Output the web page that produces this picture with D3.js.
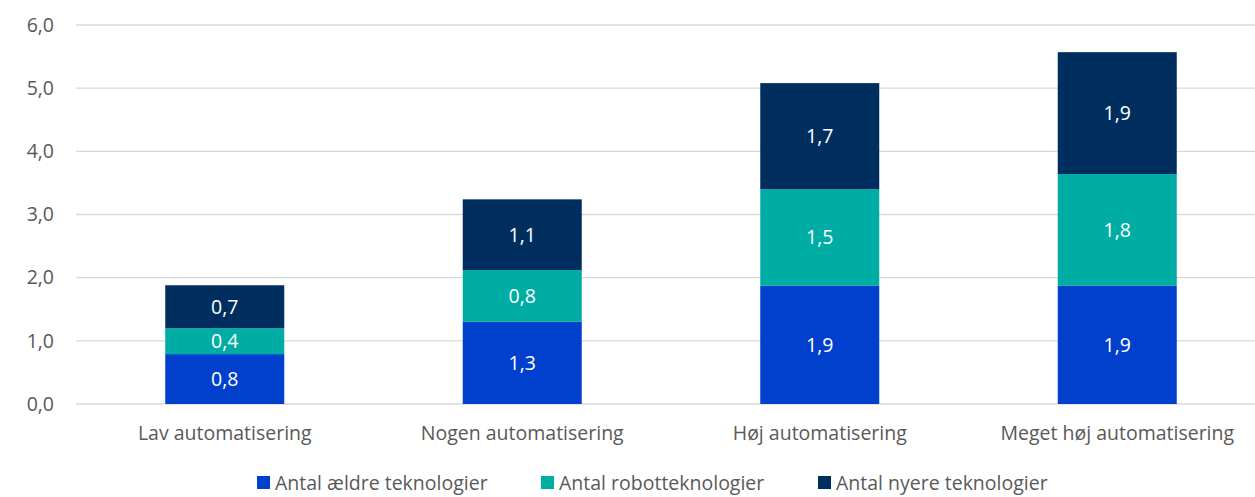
<!DOCTYPE html>
<html lang="da">
<head>
  <meta charset="UTF-8">
  <title>Automatisering og teknologier</title>
  <script src="https://cdn.jsdelivr.net/npm/d3@7"></script>
  <style>
    body { margin: 0; background: #fff; }
    text { font-family: "Segoe UI", "Open Sans", sans-serif; }
    .grid line { stroke: #d9d9d9; stroke-width: 1.3px; }
    .axis text { fill: #595959; font-size: 19.5px; }
    .lbl { fill: #fff; font-size: 19.5px; }
    .legend text { fill: #595959; font-size: 19.5px; }
  </style>
</head>
<body>
<svg width="1255" height="497"></svg>
<script>
  // data
  var categories = ["Lav automatisering", "Nogen automatisering", "Høj automatisering", "Meget høj automatisering"];
  var seriesNames = ["Antal ældre teknologier", "Antal robotteknologier", "Antal nyere teknologier"];
  var aeldre = [0.79, 1.30, 1.87, 1.87];
  var robot  = [0.41, 0.82, 1.53, 1.77];
  var nyere  = [0.68, 1.12, 1.68, 1.93];
  var yTicks = [0, 1, 2, 3, 4, 5, 6];
  var colors = ["#0040cc", "#00ada4", "#002f5f"];

  var svg = d3.select("svg");

  var x = d3.scaleBand()
      .domain(categories)
      .range([76, 1266])
      .paddingInner(0.6)
      .paddingOuter(0.3);

  var y = d3.scaleLinear()
      .domain([0, 6])
      .range([404, 25]);

  var fmt = function(v) { return d3.format(".1f")(v).replace(".", ","); };

  // gridlines
  svg.append("g")
      .attr("class", "grid")
    .selectAll("line")
    .data(yTicks)
    .enter().append("line")
      .attr("x1", 76)
      .attr("x2", 1255)
      .attr("y1", function(d) { return y(d); })
      .attr("y2", function(d) { return y(d); });

  // y axis labels
  var yAxis = svg.append("g")
      .attr("class", "axis")
      .attr("transform", "translate(54,0)")
      .call(d3.axisLeft(y).tickValues(yTicks).tickFormat(fmt).tickSize(0).tickPadding(0));
  yAxis.select(".domain").remove();

  // stacked bars
  var rows = categories.map(function(c, i) {
    return { cat: c, s0: aeldre[i], s1: robot[i], s2: nyere[i] };
  });
  var stack = d3.stack().keys(["s0", "s1", "s2"]);
  var layers = stack(rows);

  var groups = svg.append("g").selectAll("g")
    .data(layers)
    .enter().append("g")
      .attr("fill", function(d, i) { return colors[i]; });

  groups.selectAll("rect")
    .data(function(d) { return d; })
    .enter().append("rect")
      .attr("x", function(d) { return x(d.data.cat); })
      .attr("width", x.bandwidth())
      .attr("y", function(d) { return y(d[1]); })
      .attr("height", function(d) { return y(d[0]) - y(d[1]); });

  groups.selectAll("text")
    .data(function(d) { return d; })
    .enter().append("text")
      .attr("class", "lbl")
      .attr("text-anchor", "middle")
      .attr("dy", "0.35em")
      .attr("x", function(d) { return x(d.data.cat) + x.bandwidth() / 2; })
      .attr("y", function(d) { return (y(d[0]) + y(d[1])) / 2; })
      .text(function(d) { return fmt(d[1] - d[0]); });

  // x axis labels
  var xAxis = svg.append("g")
      .attr("class", "axis")
      .attr("transform", "translate(0,404)")
      .call(d3.axisBottom(x).tickSize(0).tickPadding(22));
  xAxis.select(".domain").remove();

  // legend
  var legendX = [257, 541, 818];
  var legend = svg.append("g")
      .attr("class", "legend")
    .selectAll("g")
    .data(seriesNames)
    .enter().append("g")
      .attr("transform", function(d, i) { return "translate(" + legendX[i] + ",476)"; });
  legend.append("rect")
      .attr("width", 13)
      .attr("height", 13)
      .attr("fill", function(d, i) { return colors[i]; });
  legend.append("text")
      .attr("x", 18)
      .attr("y", 7)
      .attr("dy", "0.35em")
      .text(function(d) { return d; });
</script>
</body>
</html>
